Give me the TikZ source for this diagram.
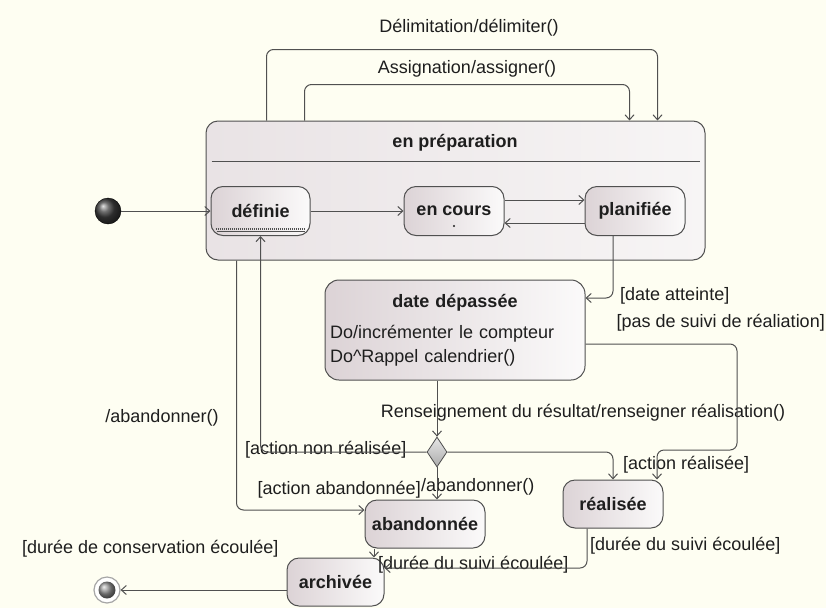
\documentclass[tikz,border=0pt]{standalone}
\usepackage{fontspec}
\setmainfont{Liberation Sans}
\usetikzlibrary{arrows.meta, positioning, calc, shapes.geometric}
\definecolor{paper}{HTML}{FEFEF2}
\definecolor{linegrey}{HTML}{505050}
\definecolor{inkdark}{HTML}{1E1E1E}
\definecolor{stateleft}{HTML}{DCD3D6}
\definecolor{stateright}{HTML}{FBFAFA}
\definecolor{prepleft}{HTML}{E9E3E5}
\definecolor{prepright}{HTML}{F7F5F5}

\begin{document}
\begin{tikzpicture}[x=1pt, y=-1pt,
      font=\fontsize{18}{21}\selectfont, text=inkdark,
      composite/.style={draw=linegrey, line width=1pt, rounded corners=12pt,
        left color=prepleft, right color=prepright},
      sub/.style={draw=linegrey, line width=1pt, rounded corners=12pt,
        left color=stateleft, right color=stateright, minimum height=49pt,
        inner sep=2pt, font=\fontsize{18}{21}\selectfont\bfseries},
      trans/.style={draw=linegrey, line width=1pt, rounded corners=7pt,
        -{Straight Barb[length=5pt,width=9pt]}},
      lbl/.style={inner sep=0pt}
    ]
      \useasboundingbox (0,0) rectangle (826,608);
      \fill[paper] (0,0) rectangle (826,608);

      % composite state
      \node[composite, minimum width=499pt, minimum height=139pt] (prep)
        at (455.5,190.5) {};
      \node[font=\fontsize{18}{21}\selectfont\bfseries] (preptitle)
        at (455,143) {en préparation};
      \draw[linegrey, line width=1pt] ([xshift=6pt,yshift=-41pt]prep.north west)
        -- ([xshift=-6pt,yshift=-41pt]prep.north east);

      \node[sub, minimum width=99pt] (definie) at (260.5,211) {définie};
      \node[sub, minimum width=100pt] (encours) at (454,211) {en cours};
      \node[sub, minimum width=100pt] (planifiee) at (635,211) {planifiée};
      \draw[linegrey, line width=2pt, dash pattern=on 1pt off 1pt]
        ([xshift=5pt,yshift=7pt]definie.south west)
        -- ([xshift=-5pt,yshift=7pt]definie.south east);
      \draw[linegrey, line width=0.6pt]
        ([xshift=6pt,yshift=5pt]definie.south west)
        -- ([xshift=-6pt,yshift=5pt]definie.south east);
      \fill[inkdark] ([yshift=-15pt]encours.center) circle (1.2pt);

      \node[circle, minimum size=26pt, inner sep=0pt, draw=black,
        ball color=black!75] (init) at (108,211) {};

      % other states
      \node[sub, rounded corners=14pt, minimum width=260pt, minimum height=100pt,
        text width=250pt, align=left, font=\fontsize{18}{24}\selectfont]
        (datedep) at (455,330)
        {\hfill\textbf{date dépassée}\hfill\null\\[7pt]
         Do/incrémenter le compteur\\
         Do\textasciicircum Rappel calendrier()};
      \node[diamond, draw=linegrey, line width=0.8pt, inner sep=0pt,
        minimum width=20pt, minimum height=30pt,
        top color=gray!20, bottom color=gray!65] (dec) at (437,452) {};
      \node[sub, minimum width=120pt, minimum height=48pt] (abandonnee)
        at (425,524) {abandonnée};
      \node[sub, minimum width=100pt, minimum height=48pt] (realisee)
        at (613,504) {réalisée};
      \node[sub, minimum width=97pt, minimum height=48pt] (archivee)
        at (335.5,582) {archivée};
      \node[circle, minimum size=26pt, inner sep=0pt, draw=gray!70,
        line width=1.2pt, fill=white] (final) at (107,590) {};
      \shade[ball color=gray!85] (final) circle (8.5pt);

      % labels
      \node[lbl] (ldelim) at (469,28) {Délimitation/délimiter()};
      \node[lbl] (lassign) at (467,69) {Assignation/assigner()};
      \node[lbl, anchor=west] (latteinte) at (620,296) {[date atteinte]};
      \node[lbl, anchor=east] (lpassuivi) at (825,323) {[pas de suivi de réaliation]};
      \node[lbl] (lrens) at (583,413)
        {Renseignement du résultat/renseigner réalisation()};
      \node[lbl] (labandon) at (162,418) {/abandonner()};
      \node[lbl, anchor=west] (lnonreal) at (245,450) {[action non réalisée]};
      \node[lbl, anchor=east] (lactaband) at (421,490) {[action abandonnée]};
      \node[lbl, anchor=west] (ldecaband) at (421,487) {/abandonner()};
      \node[lbl, anchor=west] (lreal) at (623,465) {[action réalisée]};
      \node[lbl, anchor=west] (lsuivia) at (590,546) {[durée du suivi écoulée]};
      \node[lbl, anchor=west] (lsuivib) at (378,565) {[durée du suivi écoulée]};
      \node[lbl, anchor=west] (lconserv) at (22,549) {[durée de conservation écoulée]};

      % transitions
      \coordinate (bendr) at (737,450);
      \coordinate (abin) at ([xshift=-51pt]abandonnee.south);
      \draw[trans] (init) -- (definie);
      \draw[trans] (definie) -- (encours);
      \draw[trans] ([yshift=11pt]encours.east) -- ([yshift=11pt]planifiee.west);
      \draw[trans] ([yshift=-12pt]planifiee.west) -- ([yshift=-12pt]encours.east);
      \draw[trans] ([xshift=61pt]prep.north west) -- ++(0,-71)
        -| ([xshift=-48pt]prep.north east);
      \draw[trans] ([xshift=99pt]prep.north west) -- ++(0,-36)
        -| ([xshift=-76pt]prep.north east);
      \draw[trans] ([xshift=-22pt]planifiee.south) |- ([yshift=32pt]datedep.east);
      \draw[trans] ([yshift=-14pt]datedep.east) -| (bendr)
        -| ([xshift=44pt]realisee.north);
      \draw[trans] (dec.north |- datedep.south) -- (dec.north);
      \draw[trans] (dec.east) -| (realisee.north);
      \draw[trans] (dec.west) -| (definie.south);
      \draw[trans] (dec.south) -- (dec.south |- abandonnee.north);
      \draw[trans] ([xshift=31pt]prep.south west) |- ([yshift=14pt]abandonnee.west);
      \draw[trans] (abin) -- (abin |- archivee.north);
      \draw[trans] ([xshift=-26pt]realisee.south) |- ([yshift=14pt]archivee.east);
      \draw[trans] ([yshift=-8pt]archivee.west) -- (final);
    \end{tikzpicture}
\end{document}
